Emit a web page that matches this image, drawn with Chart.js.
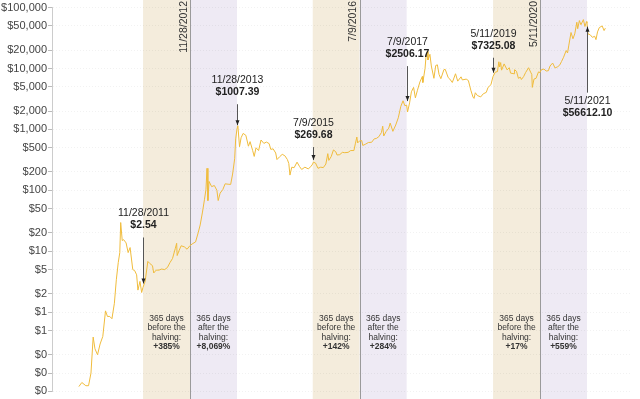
<!DOCTYPE html>
<html>
<head>
<meta charset="utf-8">
<script src="https://cdn.jsdelivr.net/npm/chart.js@4"></script>
<style>
  html, body { margin: 0; padding: 0; background: #fff; }
  #wrap { width: 640px; height: 399px; position: relative; }
</style>
</head>
<body>
<div id="wrap"><canvas id="btcChart"></canvas></div>
<script>
// price history (USD, log scale)
const dates = [
  "2010-07-18","2010-08-10","2010-09-10","2010-10-01","2010-10-20","2010-11-06","2010-11-20","2010-12-10","2010-12-30",
  "2011-01-20","2011-02-10","2011-02-25","2011-03-15","2011-04-01","2011-04-20","2011-05-05","2011-05-20","2011-06-01",
  "2011-06-08","2011-06-20","2011-07-01","2011-07-20","2011-08-05","2011-08-20","2011-09-10","2011-09-25","2011-10-10",
  "2011-10-20","2011-11-05","2011-11-18","2011-11-28","2011-12-15","2012-01-05","2012-01-20","2012-02-10","2012-02-20",
  "2012-03-10","2012-04-01","2012-04-20","2012-05-15","2012-06-05","2012-06-25","2012-07-15","2012-08-05","2012-08-16",
  "2012-08-20","2012-09-05","2012-09-20","2012-10-15","2012-11-05","2012-11-28","2012-12-20","2013-01-10","2013-01-30",
  "2013-02-15","2013-03-05","2013-03-20","2013-04-01","2013-04-09","2013-04-16","2013-04-25","2013-05-15","2013-06-05",
  "2013-06-25","2013-07-05","2013-07-20","2013-08-10","2013-08-28","2013-09-20","2013-10-10","2013-10-25","2013-11-10",
  "2013-11-18","2013-11-28","2013-12-05","2013-12-18","2013-12-30","2014-01-15","2014-02-05","2014-02-25","2014-03-10",
  "2014-03-30","2014-04-11","2014-04-25","2014-05-15","2014-06-03","2014-06-25","2014-07-15","2014-08-05","2014-08-18",
  "2014-09-05","2014-09-25","2014-10-05","2014-10-25","2014-11-15","2014-12-05","2014-12-25","2015-01-05","2015-01-14",
  "2015-01-28","2015-02-15","2015-03-10","2015-03-30","2015-04-15","2015-05-10","2015-06-05","2015-06-25","2015-07-09",
  "2015-07-15","2015-08-01","2015-08-20","2015-09-10","2015-09-30","2015-10-20","2015-11-04","2015-11-12","2015-12-01",
  "2015-12-18","2016-01-05","2016-01-15","2016-02-05","2016-02-25","2016-03-15","2016-04-10","2016-04-30","2016-05-25",
  "2016-06-05","2016-06-17","2016-06-23","2016-07-09","2016-07-25","2016-08-02","2016-08-25","2016-09-15","2016-10-10",
  "2016-10-30","2016-11-15","2016-12-05","2016-12-25","2017-01-04","2017-01-12","2017-01-30","2017-02-20","2017-03-03",
  "2017-03-24","2017-04-15","2017-05-05","2017-05-25","2017-06-11","2017-06-25","2017-07-09","2017-07-16","2017-08-01",
  "2017-08-15","2017-09-01","2017-09-15","2017-10-01","2017-10-20","2017-11-08","2017-11-12","2017-11-29","2017-12-07",
  "2017-12-17","2017-12-22","2018-01-06","2018-01-17","2018-02-06","2018-02-20","2018-03-05","2018-03-18","2018-04-01",
  "2018-04-25","2018-05-05","2018-05-28","2018-06-10","2018-06-29","2018-07-24","2018-08-10","2018-09-05","2018-09-15",
  "2018-10-15","2018-11-01","2018-11-20","2018-12-07","2018-12-15","2018-12-25","2019-01-10","2019-02-05","2019-02-25",
  "2019-03-20","2019-04-03","2019-04-25","2019-05-11","2019-05-29","2019-06-15","2019-06-26","2019-07-02","2019-07-10",
  "2019-07-17","2019-08-06","2019-08-29","2019-09-15","2019-09-25","2019-10-22","2019-10-26","2019-11-10","2019-11-25",
  "2019-12-10","2019-12-18","2020-01-05","2020-01-20","2020-02-12","2020-02-28","2020-03-08","2020-03-12","2020-03-25",
  "2020-04-10","2020-04-29","2020-05-11","2020-05-20","2020-06-10","2020-06-28","2020-07-15","2020-07-28","2020-08-17",
  "2020-09-05","2020-09-25","2020-10-10","2020-10-25","2020-11-10","2020-11-30","2020-12-11","2020-12-20","2021-01-07",
  "2021-01-22","2021-02-05","2021-02-21","2021-02-28","2021-03-13","2021-03-25","2021-04-13","2021-04-25","2021-05-08",
  "2021-05-11","2021-05-19","2021-06-05","2021-06-22","2021-07-10","2021-07-20","2021-08-01","2021-08-15","2021-09-06",
  "2021-09-21","2021-10-01"
];
const prices = [
  0.06, 0.07, 0.062, 0.062, 0.10, 0.39, 0.25, 0.20, 0.30,
  0.40, 1.05, 0.85, 0.85, 0.78, 1.4, 3.4, 6.5, 9.5,
  29.6, 15, 15.5, 13.7, 9.5, 11.5, 5, 4.8, 4.1,
  2.3, 3.2, 2.1, 2.54, 3.2, 6.8, 6.3, 5.8, 4.4,
  4.9, 4.9, 5.1, 5.0, 5.4, 6.5, 7.6, 11, 13.5,
  8.5, 10.4, 12.3, 11.8, 10.8, 12.4, 13.4, 14.2, 20,
  27, 44, 70, 104, 230, 68, 140, 115, 120,
  100, 68, 90, 103, 128, 126, 125, 185, 330,
  700, 1007.39, 1150, 520, 730, 860, 800, 530, 630,
  450, 360, 500, 450, 670, 590, 620, 585, 470,
  480, 410, 320, 355, 390, 370, 320, 275, 178,
  240, 235, 290, 245, 220, 240, 225, 245, 269.68,
  290, 280, 230, 240, 236, 270, 400, 310, 360,
  460, 430, 380, 385, 420, 415, 420, 450, 450,
  580, 750, 600, 650, 655, 545, 575, 610, 615,
  700, 710, 760, 890, 1130, 780, 920, 1050, 1270,
  930, 1180, 1550, 2400, 2950, 2450, 2506.17, 1930, 2730,
  4150, 4900, 3300, 4400, 6000, 7400, 5900, 10000, 16000,
  19100, 13800, 17100, 11000, 6900, 11200, 11500, 8000, 6800,
  9600, 9700, 7100, 6700, 5900, 8200, 6200, 7300, 6500,
  6700, 6350, 4400, 3400, 3230, 4000, 3600, 3420, 3850,
  4050, 4900, 5400, 7325.08, 8700, 8900, 12900, 10600, 12500,
  9400, 11900, 9500, 10300, 8400, 8200, 9550, 9000, 6900,
  7200, 6600, 7400, 8600, 10300, 8700, 8000, 4900, 6700,
  6900, 8800, 8600, 9500, 9800, 9100, 9200, 11000, 12300,
  10200, 10700, 11300, 13000, 15300, 19700, 18000, 23500, 39000,
  30800, 37000, 57500, 45000, 61200, 52300, 63500, 49000, 58800,
  56612.10, 37000, 35800, 32500, 33800, 29800, 39900, 47000, 50000,
  42000, 46000
];

const yTicks = [0.05, 0.1, 0.2, 0.5, 1, 2, 5, 10, 20, 50, 100, 200, 500, 1000, 2000, 5000, 10000, 20000, 50000, 100000];

const halvingDates = ["2012-11-28", "2016-07-09", "2020-05-11"];
const halvingLabels = ["11/28/2012", "7/9/2016", "5/11/2020"];
const gainBefore = ["+385%", "+142%", "+17%"];
const gainAfter = ["+8,069%", "+284%", "+559%"];

const noteDates = ["2011-11-28", "2013-11-28", "2015-07-09", "2017-07-09", "2019-05-11", "2021-05-11"];
const noteLabels = ["11/28/2011", "11/28/2013", "7/9/2015", "7/9/2017", "5/11/2019", "5/11/2021"];
const noteValues = [2.54, 1007.39, 269.68, 2506.17, 7325.08, 56612.10];

// arrow lengths in px, negative = label sits below the line
const noteArrow = [46, 21, 13, 35, 15, -66];

const DAY = 86400000;
const FONT = "'Liberation Sans', Arial, sans-serif";

const bandsPlugin = {
  id: 'bands',
  beforeDraw(chart) {
    const { ctx, scales: { x }, chartArea } = chart;
    const h = chart.height;
    ctx.save();
    halvingDates.forEach((d, i) => {
      const t = Date.parse(d);
      const x0 = x.getPixelForValue(t - 365 * DAY);
      const x1 = x.getPixelForValue(t);
      const x2 = x.getPixelForValue(t + 365 * DAY);
      ctx.fillStyle = '#f4ecdc';
      ctx.fillRect(x0, 0, x1 - x0, h);
      ctx.fillStyle = '#eeeaf4';
      ctx.fillRect(x1, 0, x2 - x1, h);
    });
    ctx.restore();
  },
  beforeDatasetsDraw(chart) {
    const { ctx, scales: { x }, chartArea } = chart;
    const h = chart.height;
    ctx.save();
    halvingDates.forEach((d, i) => {
      const t = Date.parse(d);
      const x0 = x.getPixelForValue(t - 365 * DAY);
      const x1 = x.getPixelForValue(t);
      const x2 = x.getPixelForValue(t + 365 * DAY);

      ctx.strokeStyle = '#9a9a9a';
      ctx.lineWidth = 1;
      ctx.beginPath();
      ctx.moveTo(Math.round(x1) + 0.5, 0);
      ctx.lineTo(Math.round(x1) + 0.5, h);
      ctx.stroke();

      // halving date, rotated
      ctx.save();
      ctx.translate(x1 - 1, 1);
      ctx.rotate(-Math.PI / 2);
      ctx.fillStyle = '#333';
      ctx.font = '10.5px ' + FONT;
      ctx.textAlign = 'right';
      ctx.textBaseline = 'bottom';
      ctx.fillText(halvingLabels[i], 0, 0);
      ctx.restore();

      // 365 day texts
      ctx.fillStyle = '#333';
      ctx.textAlign = 'center';
      ctx.textBaseline = 'middle';
      const yb = chartArea.bottom - 73;
      const lh = 9.4;
      const cb = (x0 + x1) / 2, ca = (x1 + x2) / 2;
      ctx.font = '8.5px ' + FONT;
      ['365 days', 'before the', 'halving:'].forEach((s, k) => ctx.fillText(s, cb, yb + k * lh));
      ['365 days', 'after the', 'halving:'].forEach((s, k) => ctx.fillText(s, ca, yb + k * lh));
      ctx.font = 'bold 8.5px ' + FONT;
      ctx.fillText(gainBefore[i], cb, yb + 3 * lh);
      ctx.fillText(gainAfter[i], ca, yb + 3 * lh);
    });
    ctx.restore();
  },
  afterDatasetsDraw(chart) {
    const { ctx, scales: { x, y } } = chart;
    ctx.save();
    noteDates.forEach((d, i) => {
      const px = Math.round(x.getPixelForValue(Date.parse(d))) + 0.5;
      const py = y.getPixelForValue(noteValues[i]);
      const len = noteArrow[i];
      const up = len < 0;
      const tip = up ? py + 4 : py - 4;
      const tail = up ? tip - len : tip - len;
      ctx.strokeStyle = '#555';
      ctx.fillStyle = '#222';
      ctx.lineWidth = 1;
      ctx.beginPath();
      ctx.moveTo(px, tail);
      ctx.lineTo(px, tip);
      ctx.stroke();
      const dir = up ? 1 : -1;
      ctx.beginPath();
      ctx.moveTo(px, tip);
      ctx.lineTo(px - 2, tip + dir * 5);
      ctx.lineTo(px + 2, tip + dir * 5);
      ctx.closePath();
      ctx.fill();

      ctx.textAlign = 'center';
      ctx.textBaseline = 'middle';
      const dy = up ? tail + 8 : tail - 24;
      ctx.fillStyle = '#222';
      ctx.font = '10.5px ' + FONT;
      ctx.fillText(noteLabels[i], px, dy);
      ctx.font = 'bold 10.5px ' + FONT;
      ctx.fillText('$' + noteValues[i].toFixed(2), px, dy + 12);
    });
    ctx.restore();
  }
};

const ctx = document.getElementById('btcChart').getContext('2d');
new Chart(ctx, {
  type: 'line',
  data: {
    datasets: [{
      label: 'BTC',
      data: dates.map((d, i) => ({ x: Date.parse(d), y: prices[i] })),
      borderColor: '#f0bc3c',
      borderWidth: 1,
      pointRadius: 0,
      tension: 0,
      fill: false
    }]
  },
  options: {
    responsive: true,
    maintainAspectRatio: false,
    animation: false,
    layout: { padding: { top: 5, bottom: 7, right: 8, left: 0 } },
    plugins: {
      legend: { display: false },
      tooltip: { enabled: false }
    },
    scales: {
      x: {
        type: 'linear',
        display: false,
        min: Date.parse('2009-12-21'),
        max: Date.parse('2022-04-26')
      },
      y: {
        type: 'logarithmic',
        min: 0.05,
        max: 100000,
        afterBuildTicks: (axis) => { axis.ticks = yTicks.map(v => ({ value: v })); },
        afterFit: (axis) => { axis.width = 52; },
        grid: { color: 'rgba(0,0,0,0.05)', tickLength: 4, tickColor: '#bbb' },
        border: { color: '#ccc', dash: [1, 2] },
        ticks: {
          autoSkip: false,
          padding: 1,
          color: '#444',
          font: { family: FONT, size: 11 },
          callback: (v) => '$' + Math.round(v).toLocaleString('en-US')
        }
      }
    }
  },
  plugins: [bandsPlugin]
});
</script>
</body>
</html>
